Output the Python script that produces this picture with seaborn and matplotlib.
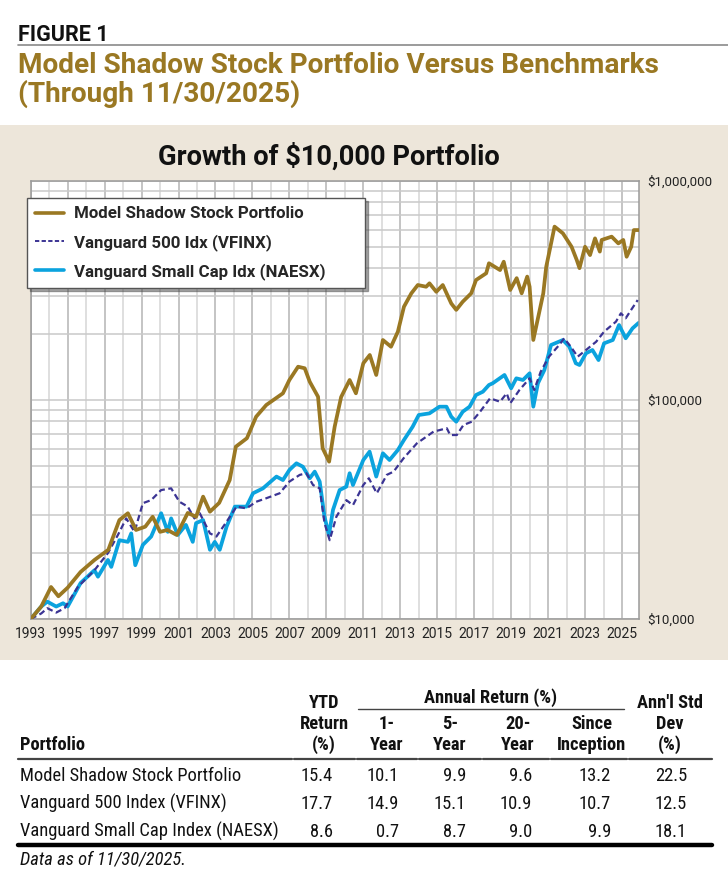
import pandas as pd
import seaborn as sns
import matplotlib.pyplot as plt
from matplotlib import font_manager
from matplotlib.ticker import FixedLocator, LogLocator, NullFormatter
from matplotlib.patches import Rectangle
from matplotlib.lines import Line2D

# growth of $10,000, values in $ thousands
gold_year = [1993.00, 1993.57, 1994.10, 1994.50, 1995.00, 1995.70, 1996.45, 1997.20, 1997.80, 1998.26,
             1998.70, 1999.20, 1999.60, 2000.00, 2000.40, 2000.90, 2001.50, 2001.95, 2002.33, 2002.70,
             2003.20, 2003.77, 2004.10, 2004.70, 2005.20, 2005.75, 2006.65, 2007.00, 2007.47, 2007.83,
             2008.10, 2008.55, 2008.80, 2009.15, 2009.45, 2009.80, 2010.26, 2010.60, 2011.00, 2011.35,
             2011.70, 2012.06, 2012.50, 2012.87, 2013.20, 2013.60, 2013.95, 2014.40, 2014.58, 2014.95,
             2015.30, 2015.76, 2016.03, 2016.38, 2016.84, 2017.10, 2017.65, 2017.80, 2018.40, 2018.60,
             2018.95, 2019.30, 2019.57, 2019.87, 2020.00, 2020.20, 2020.74, 2020.90, 2021.35, 2021.80,
             2022.27, 2022.55, 2022.70, 2023.00, 2023.27, 2023.54, 2023.80, 2023.90, 2024.44, 2024.80,
             2025.07, 2025.25, 2025.50, 2025.64, 2025.90]
gold_value = [10.0, 11.4, 14.0, 12.7, 13.9, 16.4, 18.6, 20.7, 28.3, 30.4,
              25.5, 26.4, 29.3, 25.0, 25.5, 24.2, 30.5, 29.3, 36.2, 30.9,
              33.9, 43.1, 61.2, 66.9, 83.9, 94.9, 107.3, 123.4, 141.9, 139.6,
              121.2, 103.5, 60.2, 52.3, 75.5, 103.2, 123.4, 107.3, 147.1, 160.5,
              130.1, 187.9, 175.1, 205.1, 266.7, 307, 335, 329, 341, 312,
              335, 276, 258, 281, 307, 353, 379, 421, 392, 428,
              318, 360, 307, 366, 329, 188, 307, 406, 619, 577,
              501, 436, 400, 501, 459, 547, 476, 538, 557, 519,
              538, 451, 501, 597, 597]

blue_year = [1993.00, 1993.57, 1993.90, 1994.38, 1994.75, 1995.00, 1995.70, 1996.45, 1996.64, 1997.18,
             1997.36, 1997.80, 1998.26, 1998.44, 1998.66, 1999.07, 1999.52, 2000.06, 2000.42, 2000.60,
             2000.96, 2001.40, 2001.77, 2001.95, 2002.33, 2002.70, 2002.96, 2003.23, 2003.60, 2004.05,
             2004.68, 2005.03, 2005.57, 2006.30, 2006.65, 2007.00, 2007.38, 2007.73, 2008.10, 2008.37,
             2008.64, 2008.90, 2009.14, 2009.36, 2009.72, 2010.08, 2010.26, 2010.44, 2011.00, 2011.34,
             2011.70, 2012.06, 2012.42, 2012.87, 2013.20, 2013.67, 2014.00, 2014.58, 2015.12, 2015.50,
             2015.76, 2016.03, 2016.38, 2016.75, 2017.10, 2017.47, 2017.80, 2018.00, 2018.64, 2019.00,
             2019.28, 2019.64, 2020.00, 2020.20, 2020.45, 2020.80, 2021.16, 2021.80, 2022.15, 2022.50,
             2022.70, 2023.05, 2023.40, 2023.73, 2024.03, 2024.50, 2024.84, 2025.20, 2025.57, 2025.90]
blue_value = [10.0, 11.4, 12.0, 11.4, 11.8, 11.4, 14.6, 16.7, 15.6, 18.6,
              17.3, 22.9, 22.5, 24.6, 17.6, 21.8, 23.8, 30.4, 25.0, 28.8,
              24.2, 26.9, 22.5, 27.4, 28.3, 20.7, 22.5, 20.7, 26.4, 32.6,
              32.6, 37.5, 39.5, 44.7, 43.1, 47.9, 51.4, 49.6, 43.9, 47.1,
              42.4, 29.3, 24.2, 31.5, 38.8, 40.2, 46.3, 40.9, 53.2, 58.1,
              44.7, 57.1, 53.2, 59.1, 65.7, 75.5, 85.4, 86.9, 93.2, 93.2,
              83.9, 79.6, 88.4, 93.2, 105.4, 109.1, 117.1, 119.2, 130.1, 113.1,
              125.6, 123.4, 132.4, 93.2, 119.2, 137.1, 178.3, 187.9, 175.1, 147.1,
              144.5, 163.4, 169.1, 152.2, 181.5, 187.9, 220, 191.3, 212.5, 225]

purple_year = [1993.00, 1993.57, 1993.90, 1994.38, 1994.83, 1995.55, 1996.45, 1997.18, 1997.72, 1998.17,
               1998.62, 1999.07, 1999.52, 2000.06, 2000.60, 2001.05, 2001.50, 2001.86, 2002.15, 2002.70,
               2003.05, 2003.60, 2004.14, 2004.68, 2005.20, 2005.75, 2006.47, 2007.00, 2007.56, 2007.92,
               2008.28, 2008.64, 2008.90, 2009.18, 2009.54, 2010.08, 2010.44, 2011.00, 2011.30, 2011.73,
               2012.27, 2012.64, 2013.18, 2013.90, 2014.80, 2015.52, 2015.70, 2016.06, 2016.42, 2016.87,
               2017.32, 2017.86, 2018.40, 2018.76, 2018.95, 2019.45, 2020.00, 2020.25, 2020.60, 2021.05,
               2021.60, 2021.87, 2022.23, 2022.60, 2023.05, 2023.60, 2024.03, 2024.67, 2024.94, 2025.20,
               2025.49, 2025.85]
purple_value = [10.0, 10.6, 11.2, 10.7, 11.2, 14.0, 16.7, 20.0, 24.2, 28.8,
                25.0, 33.8, 34.9, 38.8, 39.5, 34.3, 32.6, 28.8, 30.4, 24.6,
                23.8, 27.8, 32.6, 32.0, 34.3, 35.6, 37.5, 42.4, 45.5, 46.3,
                40.9, 39.5, 27.4, 22.9, 29.3, 34.9, 33.1, 40.9, 43.9, 37.5,
                45.5, 47.1, 54.2, 63.4, 71.7, 74.3, 69.2, 69.2, 76.9, 79.6,
                88.4, 101.8, 98.2, 107.3, 96.6, 111.1, 125.6, 111.1, 134.7, 157.7,
                178.3, 191.3, 175.1, 157.7, 169.1, 184.5, 205.1, 227.8, 248.8, 236.1,
                257.6, 286]

year_ticks = list(range(1993, 2026, 2))
y_ticks = [10000, 100000, 1000000]
y_labels = ['$10,000', '$100,000', '$1,000,000']

# table
portfolios = ['Model Shadow Stock Portfolio', 'Vanguard 500 Index (VFINX)',
              'Vanguard Small Cap Index (NAESX)']
ytd = [15.4, 17.7, 8.6]
yr1 = [10.1, 14.9, 0.7]
yr5 = [9.9, 15.1, 8.7]
yr20 = [9.6, 10.9, 9.0]
since = [13.2, 10.7, 9.9]
stdev = [22.5, 12.5, 18.1]

GOLD = '#9a7823'
BLUE = '#0ba3de'
PURPLE = '#3b3494'
BEIGE = '#ede6da'

sns.set_style('white')
plt.rcParams['font.family'] = ['Roboto', 'DejaVu Sans']

installed = {f.name for f in font_manager.fontManager.ttflist}
if 'Roboto Condensed' in installed:
    TF, TS = ['Roboto Condensed', 'DejaVu Sans'], 13.3
elif 'Liberation Sans Narrow' in installed:
    TF, TS = ['Liberation Sans Narrow', 'DejaVu Sans'], 13.0
else:
    TF, TS = ['Roboto', 'DejaVu Sans'], 11.6

W, H = 728, 888
fig = plt.figure(figsize=(W / 100, H / 100), dpi=100)


def fx(x):
    return x / W


def fy(y):
    return 1 - y / H


# beige panel behind chart
fig.patches.append(Rectangle((0, fy(660)), 1, (660 - 125) / H, transform=fig.transFigure,
                             facecolor=BEIGE, edgecolor='none', zorder=-5))

fig.text(fx(18), fy(41), 'FIGURE 1', fontsize=15.5, fontweight='bold', color='#111111', va='baseline')
fig.add_artist(Line2D([fx(18), 1], [fy(45.5), fy(45.5)], color='#8a8a8a', lw=1.2))
fig.text(fx(18), fy(73), 'Model Shadow Stock Portfolio Versus Benchmarks', fontsize=20.2,
         fontweight='bold', color=GOLD, va='baseline')
fig.text(fx(18), fy(102), '(Through 11/30/2025)', fontsize=20.2, fontweight='bold', color=GOLD,
         va='baseline')
fig.text(fx(329), fy(165), 'Growth of $10,000 Portfolio', fontsize=19.6, fontweight='bold',
         color='#111111', ha='center', va='baseline')

ax = fig.add_axes([fx(30.7), fy(619), (639 - 30.7) / W, (619 - 181) / H])
ax.set_zorder(1)
ax.set_facecolor('white')

frames = {
    'Model Shadow Stock Portfolio': pd.DataFrame({'year': gold_year, 'value': [v * 1000 for v in gold_value]}),
    'Vanguard 500 Idx (VFINX)': pd.DataFrame({'year': purple_year, 'value': [v * 1000 for v in purple_value]}),
    'Vanguard Small Cap Idx (NAESX)': pd.DataFrame({'year': blue_year, 'value': [v * 1000 for v in blue_value]}),
}

sns.lineplot(data=frames['Vanguard 500 Idx (VFINX)'], x='year', y='value', ax=ax, color=PURPLE,
             lw=1.6, estimator=None, sort=False, zorder=3)
ax.lines[-1].set_dashes([2.8, 1.6])
sns.lineplot(data=frames['Vanguard Small Cap Idx (NAESX)'], x='year', y='value', ax=ax, color=BLUE,
             lw=2.7, estimator=None, sort=False, zorder=2)
sns.lineplot(data=frames['Model Shadow Stock Portfolio'], x='year', y='value', ax=ax, color=GOLD,
             lw=2.7, estimator=None, sort=False, zorder=4)

ax.set_yscale('log')
ax.set_ylim(10000, 1000000)
ax.set_xlim(1993, 2025.92)
ax.set_xlabel('')
ax.set_ylabel('')

ax.xaxis.set_major_locator(FixedLocator(year_ticks))
ax.xaxis.set_minor_locator(FixedLocator(list(range(1994, 2026, 2))))
ax.set_xticklabels([str(y) for y in year_ticks])
ax.yaxis.set_major_locator(FixedLocator(y_ticks))
ax.yaxis.set_minor_locator(LogLocator(base=10, subs=range(2, 10)))
ax.yaxis.set_minor_formatter(NullFormatter())
ax.set_yticklabels(y_labels)
ax.yaxis.tick_right()

ax.grid(which='major', axis='x', color='#b4b4b4', lw=1.1)
ax.grid(which='minor', axis='x', color='#d6d6d6', lw=1.1)
ax.grid(which='both', axis='y', color='#c9c9c9', lw=1.1)
ax.set_axisbelow(True)
ax.tick_params(which='both', length=0)
ax.tick_params(axis='x', labelsize=10, pad=6, colors='#222222')
ax.tick_params(axis='y', labelsize=9.5, pad=6, colors='#222222')
for s in ax.spines.values():
    s.set_color('#9a9a9a')
    s.set_linewidth(1.1)

handles = [Line2D([], [], color=GOLD, lw=2.6),
           Line2D([], [], color=PURPLE, lw=1.4, dashes=[2.2, 1.2]),
           Line2D([], [], color=BLUE, lw=2.6)]
leg = ax.legend(handles, list(frames.keys()), loc='upper left',
                bbox_to_anchor=(fx(27), fy(289), 338 / W, 91 / H), bbox_transform=fig.transFigure,
                mode='expand', borderaxespad=0, fancybox=False, shadow=True, frameon=True,
                prop={'weight': 'bold', 'size': 12.2}, handlelength=1.7, handletextpad=0.55,
                labelspacing=0.72, borderpad=0.5)
leg.get_frame().set_edgecolor('#555555')
leg.get_frame().set_linewidth(1.0)
leg.set_zorder(10)

# table below the chart
hd = dict(fontsize=TS, fontweight='bold', family=TF, color='#111111', va='baseline')
bd = dict(fontsize=TS, family=TF, color='#111111', va='baseline')

fig.text(fx(20), fy(750), 'Portfolio', ha='left', **hd)
fig.text(fx(324), fy(708), 'YTD', ha='center', **hd)
fig.text(fx(324), fy(729), 'Return', ha='center', **hd)
fig.text(fx(324), fy(750), '(%)', ha='center', **hd)
fig.text(fx(491), fy(703), 'Annual Return (%)', ha='center', **hd)
fig.add_artist(Line2D([fx(358), fx(624)], [fy(709), fy(709)], color='#444444', lw=1))
sub_cols = [(387, '1-'), (450, '5-'), (518, '20-')]
for cx, top in sub_cols:
    fig.text(fx(cx), fy(729), top, ha='center', **hd)
    fig.text(fx(cx), fy(750), 'Year', ha='center', **hd)
fig.text(fx(592), fy(729), 'Since', ha='center', **hd)
fig.text(fx(592), fy(750), 'Inception', ha='center', **hd)
fig.text(fx(670), fy(708), "Ann'l Std", ha='center', **hd)
fig.text(fx(670), fy(729), 'Dev', ha='center', **hd)
fig.text(fx(670), fy(750), '(%)', ha='center', **hd)

for x0, x1 in [(18, 292), (294, 355), (357, 417), (419, 481), (483, 549), (551, 627), (629, 712)]:
    fig.add_artist(Line2D([fx(x0), fx(x1)], [fy(759), fy(759)], color='#444444', lw=1.6))

row_base = [781, 809, 837]
value_cols = [(333, ytd), (399, yr1), (466, yr5), (532, yr20), (611, since), (687, stdev)]
for i, name in enumerate(portfolios):
    fig.text(fx(20), fy(row_base[i]), name, ha='left', **bd)
    for rx, vals in value_cols:
        fig.text(fx(rx), fy(row_base[i]), f'{vals[i]:.1f}', ha='right', **bd)

fig.add_artist(Line2D([fx(18), fx(712)], [fy(845), fy(845)], color='#000000', lw=3.2))
fig.text(fx(20), fy(864), 'Data as of 11/30/2025.', ha='left', fontsize=TS, style='italic',
         family=TF, color='#111111', va='baseline')

fig.savefig('out.png', dpi=100, facecolor='white')
